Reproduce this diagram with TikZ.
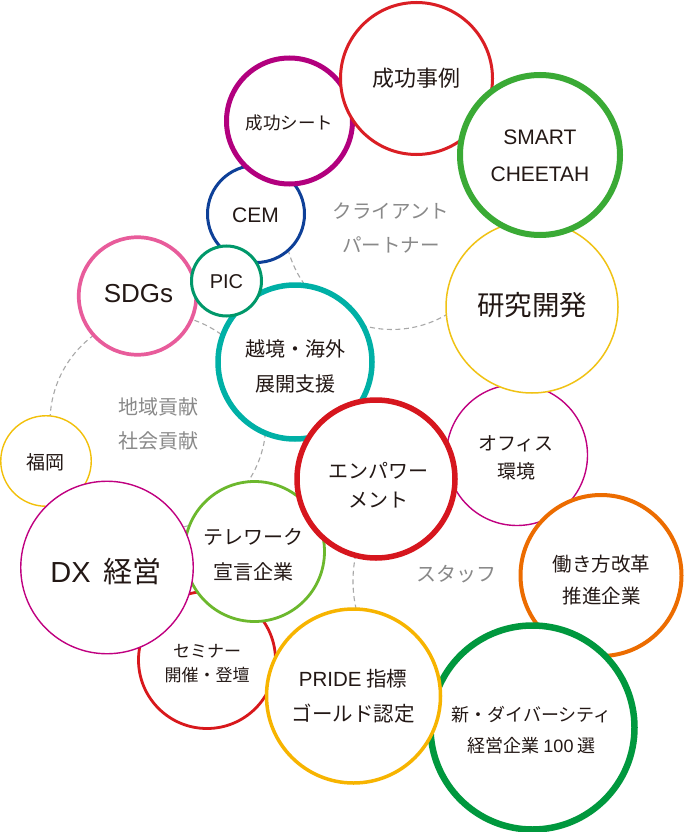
\documentclass[tikz,border=0pt]{standalone}
\usepackage{fontspec}
\setmainfont{Noto Sans CJK JP}
\newfontfamily\lat{Liberation Sans}
\usepackage{xcolor}
\definecolor{ink}{RGB}{35,24,21}
\definecolor{notegray}{RGB}{137,137,137}
\definecolor{dashgray}{RGB}{168,168,168}
\definecolor{jireired}{RGB}{218,30,36}
\definecolor{sheetmag}{RGB}{178,0,126}
\definecolor{cheetahgreen}{RGB}{58,170,53}
\definecolor{cemblue}{RGB}{14,64,152}
\definecolor{kenkyuyellow}{RGB}{240,194,20}
\definecolor{sdgspink}{RGB}{232,92,155}
\definecolor{picgreen}{RGB}{0,152,106}
\definecolor{ekkyoteal}{RGB}{0,176,166}
\definecolor{fukuokayellow}{RGB}{242,192,10}
\definecolor{thinmag}{RGB}{192,0,128}
\definecolor{empred}{RGB}{214,22,30}
\definecolor{hatarakiorange}{RGB}{236,108,0}
\definecolor{telegreen}{RGB}{108,184,45}
\definecolor{semired}{RGB}{216,24,28}
\definecolor{prideyellow}{RGB}{247,180,0}
\definecolor{divgreen}{RGB}{0,152,62}

\begin{document}
\begin{tikzpicture}[x=1pt, y=-1pt,
  bubble/.style={circle, draw, fill=white, inner sep=0pt},
  lbl/.style={text=ink, align=center, inner sep=0pt},
  note/.style={text=notegray, align=center, inner sep=0pt},
  ring/.style={draw=dashgray, line width=1.1pt, dash pattern=on 5pt off 3.5pt}
]
\fill[white] (0,0) rectangle (683,832);
\useasboundingbox (0,0) rectangle (683,832);

% dashed groups behind the bubbles
\coordinate (clientc) at (392,222);
\coordinate (localc) at (158,422);
\coordinate (staffc) at (478,581);
\draw[ring] (clientc) circle [radius=107.5pt];
\draw[ring] (localc) circle [radius=108pt];
\draw[ring] (staffc) circle [radius=125pt];

\node[note, font={\fontsize{19.5}{34}\selectfont}] (client) at (391,228) {クライアント\\パートナー};
\node[note, font={\fontsize{20}{34.5}\selectfont}] (local) at (158,424) {地域貢献\\社会貢献};
\node[note, font={\fontsize{20}{24}\selectfont}] (staff) at (456,574) {スタッフ};

% bubbles, back to front
\node[bubble, draw=ekkyoteal, line width=5.5, minimum size=154] (ekkyo) at (295,362) {};
\node[lbl, font={\fontsize{20}{35}\selectfont}] (ekkyotxt) at (295,366.5) {越境・海外\\展開支援};

\node[bubble, draw=sdgspink, line width=3.7, minimum size=117.5] (sdgs) at (137.5,296) {};
\node[lbl, font={\lat\fontsize{26}{30}\selectfont}] (sdgstxt) at (138.5,294) {SDGs};

\node[bubble, draw=cemblue, line width=3, minimum size=97] (cem) at (256,214) {};
\node[lbl, font={\lat\fontsize{21}{25}\selectfont}] (cemtxt) at (255.5,215) {CEM};

\node[bubble, draw=picgreen, line width=3, minimum size=70] (pic) at (226.5,281) {};
\node[lbl, font={\lat\fontsize{20}{24}\selectfont}] (pictxt) at (226.5,281.5) {PIC};

\node[bubble, draw=sheetmag, line width=5, minimum size=126] (sheet) at (289.5,121) {};
\node[lbl, font={\fontsize{17.5}{21}\selectfont}] (sheettxt) at (289.5,123) {成功シート};

\node[bubble, draw=jireired, line width=3, minimum size=152] (jirei) at (416.5,78.5) {};
\node[lbl, font={\fontsize{22}{26}\selectfont}] (jireitxt) at (416.5,78.5) {成功事例};

\node[bubble, draw=thinmag, line width=1.4, minimum size=141] (office) at (517,455) {};
\node[lbl, font={\fontsize{19}{27.5}\selectfont}] (officetxt) at (516,458) {オフィス\\環境};

\node[bubble, draw=kenkyuyellow, line width=1.5, minimum size=172] (kenkyu) at (532,307) {};
\node[lbl, font={\fontsize{27.5}{32}\selectfont}] (kenkyutxt) at (532,305.5) {研究開発};

\node[bubble, draw=cheetahgreen, line width=6, minimum size=160] (cheetah) at (540,155) {};
\node[lbl, font={\lat\fontsize{21}{36.5}\selectfont}] (cheetahtxt) at (540,155.75) {SMART\\CHEETAH};

\node[bubble, draw=fukuokayellow, line width=1.4, minimum size=90.5] (fukuoka) at (46,461) {};
\node[lbl, font={\fontsize{19}{23}\selectfont}] (fukuokatxt) at (45,462.5) {福岡};

\node[bubble, draw=semired, line width=2.8, minimum size=137] (seminar) at (207,660) {};
\node[lbl, font={\fontsize{17}{24}\selectfont}] (seminartxt) at (207,663.5) {セミナー\\開催・登壇};

\node[bubble, draw=telegreen, line width=2.8, minimum size=140] (telework) at (254.5,551.5) {};
\node[lbl, font={\fontsize{20}{35}\selectfont}] (teleworktxt) at (253,555) {テレワーク\\宣言企業};

\node[bubble, draw=thinmag, line width=1.4, minimum size=172.5] (dx) at (107,567.5) {};
\node[lbl, font={\fontsize{29}{33}\selectfont}] (dxtxt) at (106,571.5) {{\lat DX}\hspace{0.45em}経営};

\node[bubble, draw=empred, line width=5.5, minimum size=158] (empower) at (376,479) {};
\node[lbl, font={\fontsize{20}{29}\selectfont}] (empowertxt) at (378,485.5) {エンパワー\\メント};

\node[bubble, draw=hatarakiorange, line width=4, minimum size=161] (hataraki) at (601,575.5) {};
\node[lbl, font={\fontsize{19.5}{32.5}\selectfont}] (hatarakitxt) at (601.5,580) {働き方改革\\推進企業};

\node[bubble, draw=divgreen, line width=6.5, minimum size=204] (diversity) at (532.5,727.5) {};
\node[lbl, font={\fontsize{18}{31}\selectfont}] (diversitytxt) at (531.5,730.5) {新・ダイバーシティ\\経営企業 {\lat 100} 選};

\node[bubble, draw=prideyellow, line width=3.5, minimum size=174] (pride) at (353.5,696) {};
\node[lbl, font={\fontsize{20.5}{35}\selectfont}] (pridetxt) at (353,696.5) {{\lat PRIDE} 指標\\ゴールド認定};
\end{tikzpicture}
\end{document}
